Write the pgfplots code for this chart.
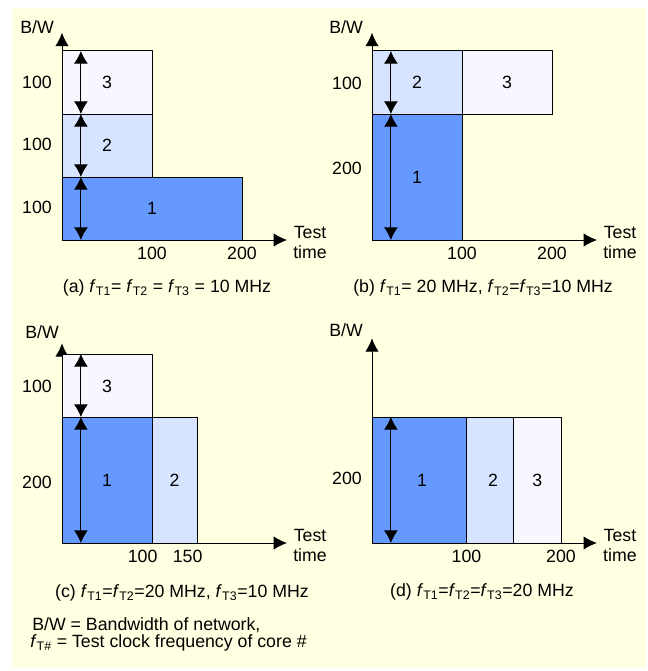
\documentclass[border=0pt]{standalone}
\usepackage{pgfplots}
\pgfplotsset{compat=1.18}
\usepackage{fontspec}
\setmainfont{Liberation Sans}
\usetikzlibrary{arrows.meta}
\definecolor{bg}{RGB}{255,255,225}
\definecolor{cone}{RGB}{102,153,255}
\definecolor{ctwo}{RGB}{215,228,255}
\definecolor{cthree}{RGB}{246,247,255}
\newcommand{\fs}{\fontsize{13.3}{15}\selectfont}
\newcommand{\fT}[1]{\textit{f}\textsubscript{T#1}}
\tikzset{lbl/.style={font=\fs, inner sep=0pt}}
\pgfplotsset{
 panel/.style={
  axis lines=left,
  axis line style={line width=0.75pt, -{Latex[length=10pt,width=10pt]}},
  xmin=0, ymin=0,
  x=0.675pt, y=0.4725pt,
  clip=false,
  tick style={draw=none},
  major tick length=0pt,
  /pgf/number format/assume math mode=true,
  ticklabel style={font=\fs, inner sep=0pt},
  xticklabel style={anchor=north, yshift=-5pt},
  yticklabel style={anchor=east, xshift=-7.5pt},
  anchor=south west,
 },
 rect/.style={draw=black, line width=0.75pt},
 dbl/.style={line width=0.75pt, {Latex[length=9.5pt,width=10.5pt]}-{Latex[length=9.5pt,width=10.5pt]}},
}
\begin{document}
\begin{tikzpicture}
\fill[white] (0,0) rectangle (486pt,-503.25pt);
\fill[bg] (9pt,-6pt) rectangle (484.5pt,-501pt);

% (a)
\begin{axis}[panel, at={(46.5pt,-180pt)}, xmax=250, ymax=329,
  xtick={100,200}, xticklabels={100,200},
  ytick={52,152,250}, yticklabels={100,100,100}]
\addplot[rect, fill=cone] coordinates {(0,0) (200,0) (200,100) (0,100)} -- cycle;
\addplot[rect, fill=ctwo] coordinates {(0,100) (100,100) (100,200) (0,200)} -- cycle;
\addplot[rect, fill=cthree] coordinates {(0,200) (100,200) (100,300) (0,300)} -- cycle;
\addplot[dbl] coordinates {(21,0) (21,100)};
\addplot[dbl] coordinates {(21,100) (21,200)};
\addplot[dbl] coordinates {(21,200) (21,300)};
\node[lbl] at (axis cs:100,50) {1};
\node[lbl] at (axis cs:50,150) {2};
\node[lbl] at (axis cs:50,250) {3};
\node[lbl, anchor=west, align=center, xshift=4.5pt, yshift=-2pt] at (axis cs:250,0) {Test\\time};
\end{axis}

% (b)
\begin{axis}[panel, at={(279pt,-180pt)}, xmax=250, ymax=329,
  xtick={100,200}, xticklabels={100,200},
  ytick={113,249}, yticklabels={200,100}]
\addplot[rect, fill=cone] coordinates {(0,0) (100,0) (100,200) (0,200)} -- cycle;
\addplot[rect, fill=ctwo] coordinates {(0,200) (100,200) (100,300) (0,300)} -- cycle;
\addplot[rect, fill=cthree] coordinates {(100,200) (200,200) (200,300) (100,300)} -- cycle;
\addplot[dbl] coordinates {(21,0) (21,200)};
\addplot[dbl] coordinates {(21,200) (21,300)};
\node[lbl] at (axis cs:50,100) {1};
\node[lbl] at (axis cs:50,250) {2};
\node[lbl] at (axis cs:150,250) {3};
\node[lbl, anchor=west, align=center, xshift=4.5pt, yshift=-2pt] at (axis cs:250,0) {Test\\time};
\end{axis}

% (c)
\begin{axis}[panel, at={(46.5pt,-407.25pt)}, xmax=250, ymax=317,
  xtick={100,150}, xticklabels={100,150},
  xticklabel style={xshift=-7pt},
  ytick={97,248}, yticklabels={200,100}]
\addplot[rect, fill=cone] coordinates {(0,0) (100,0) (100,200) (0,200)} -- cycle;
\addplot[rect, fill=ctwo] coordinates {(100,0) (150,0) (150,200) (100,200)} -- cycle;
\addplot[rect, fill=cthree] coordinates {(0,200) (100,200) (100,300) (0,300)} -- cycle;
\addplot[dbl] coordinates {(21,0) (21,200)};
\addplot[dbl] coordinates {(21,200) (21,300)};
\node[lbl] at (axis cs:50,100) {1};
\node[lbl] at (axis cs:125,100) {2};
\node[lbl] at (axis cs:50,248) {3};
\node[lbl, anchor=west, align=center, xshift=4.5pt, yshift=-2pt] at (axis cs:250,0) {Test\\time};
\end{axis}

% (d)
\begin{axis}[panel, at={(279pt,-407.25pt)}, x=0.70875pt, xmax=238, ymax=325,
  xtick={100,200}, xticklabels={100,200},
  ytick={103}, yticklabels={200}]
\addplot[rect, fill=cone] coordinates {(0,0) (100,0) (100,200) (0,200)} -- cycle;
\addplot[rect, fill=ctwo] coordinates {(100,0) (150,0) (150,200) (100,200)} -- cycle;
\addplot[rect, fill=cthree] coordinates {(150,0) (200,0) (200,200) (150,200)} -- cycle;
\addplot[dbl] coordinates {(20,0) (20,200)};
\node[lbl] at (axis cs:53,100) {1};
\node[lbl] at (axis cs:128,100) {2};
\node[lbl] at (axis cs:175,100) {3};
\node[lbl, anchor=west, align=center, xshift=4.5pt, yshift=-2pt] at (axis cs:238,0) {Test\\time};
\end{axis}

% axis titles
\node[lbl] at (27.75pt,-20.25pt) {B/W};
\node[lbl] at (259.5pt,-20.25pt) {B/W};
\node[lbl] at (31.5pt,-249pt) {B/W};
\node[lbl] at (259.5pt,-247.5pt) {B/W};

% captions
\node[lbl] at (125.25pt,-216pt) {(a) \fT{1}= \fT{2} = \fT{3} = 10 MHz};
\node[lbl] at (362.25pt,-216pt) {(b) \fT{1}= 20 MHz, \fT{2}=\fT{3}=10 MHz};
\node[lbl] at (136.5pt,-444.75pt) {(c) \fT{1}=\fT{2}=20 MHz, \fT{3}=10 MHz};
\node[lbl] at (361.5pt,-444pt) {(d) \fT{1}=\fT{2}=\fT{3}=20 MHz};
\node[lbl, anchor=west] at (24pt,-468.75pt) {B/W = Bandwidth of network,};
\node[lbl, anchor=west] at (22.5pt,-482.25pt) {\fT{\#} = Test clock frequency of core \#};
\end{tikzpicture}
\end{document}
